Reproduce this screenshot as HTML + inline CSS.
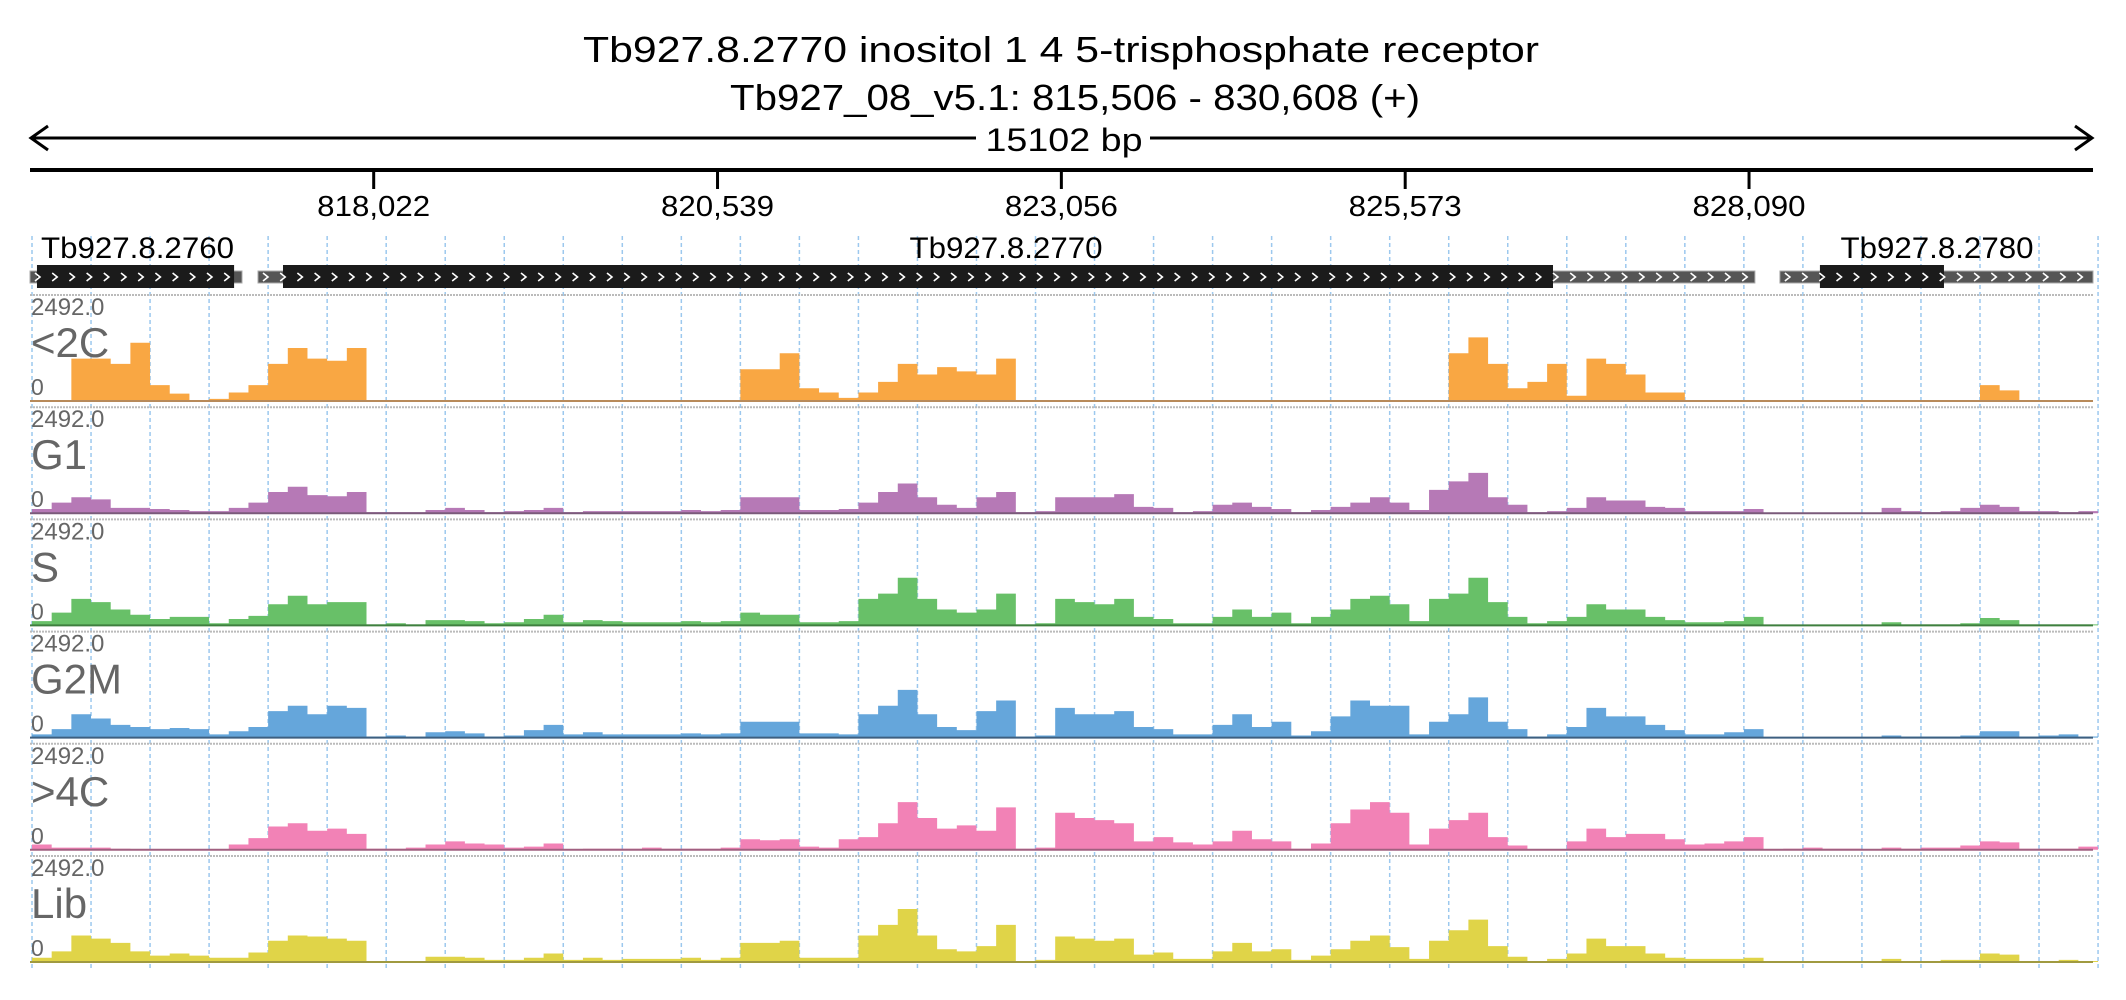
<!DOCTYPE html>
<html><head><meta charset="utf-8">
<style>
html,body{margin:0;padding:0;background:#fff;}
svg{display:block;font-family:"Liberation Sans",sans-serif;}
</style></head>
<body>
<svg id="chart" width="2126" height="1000" viewBox="0 0 2126 1000" xmlns="http://www.w3.org/2000/svg">
  <text x="1061" y="62" font-size="36" text-anchor="middle" textLength="956" lengthAdjust="spacingAndGlyphs">Tb927.8.2770  inositol 1 4 5-trisphosphate receptor</text>
  <text x="1075" y="110" font-size="36" text-anchor="middle" textLength="690" lengthAdjust="spacingAndGlyphs">Tb927_08_v5.1: 815,506 - 830,608 (+)</text>
  <g stroke="#000" stroke-width="3" fill="none">
    <line x1="31" y1="138" x2="976" y2="138"/>
    <line x1="1150" y1="138" x2="2092" y2="138"/>
    <polyline points="48,126 31,138 48,150"/>
    <polyline points="2075,126 2092,138 2075,150"/>
  </g>
  <text x="1064" y="151" font-size="32" text-anchor="middle" textLength="157" lengthAdjust="spacingAndGlyphs">15102 bp</text>
  <line x1="30" y1="170" x2="2093" y2="170" stroke="#000" stroke-width="4"/>
  <g id="axis"></g>
  <g id="grid"></g>
  <g id="genes"></g>
  <g id="tracks"></g>
</svg>
<script>
const NS='http://www.w3.org/2000/svg';
// ---- data ----
const startBp=815506, endBp=830608;
const tickBp=[818022,820539,823056,825573,828090];
const tickLabels=['818,022','820,539','823,056','825,573','828,090'];
const trackNames=['<2C','G1','S','G2M','>4C','Lib'];
const maxLabel='2492.0';
const cov2C=[0,0,40, 40,35,55, 15,7,1, 2,8,15, 35,50,40, 38,50,0, 0,0,0, 0,0,0, 0,0,0, 0,0,0, 0,0,0, 0,0,0, 30,30,45, 12,8,3, 8,18,35, 25,32,28, 25,40,1, 0,0,0, 0,0,0, 0,0,0, 0,0,0, 0,0,0, 0,0,0, 0,0,1, 45,60,35, 12,18,35, 5,40,35, 25,8,8, 0,0,0, 0,0,0, 0,0,0, 0,0,0, 0,0,0, 15,10,0, 0,0,0];
const covG1=[4,10,15, 13,5,5, 4,3,2, 2,5,10, 20,25,17, 16,20,1, 1,1,3, 5,3,1, 2,3,5, 1,2,2, 2,2,2, 3,2,3, 15,15,15, 3,3,4, 10,20,28, 15,8,5, 15,20,1, 2,15,15, 15,18,6, 5,1,2, 8,10,6, 4,1,3, 6,10,15, 10,3,22, 30,38,15, 8,1,2, 5,15,12, 12,6,5, 2,2,2, 4,0,0, 0,0,0, 0,5,2, 1,2,5, 8,6,2, 2,1,2];
const covS=[4,12,25, 22,15,10, 6,8,8, 2,6,9, 20,28,20, 22,22,1, 2,1,5, 5,4,2, 3,6,10, 3,5,4, 3,3,3, 4,3,4, 12,10,10, 3,3,4, 25,30,45, 25,15,12, 15,30,1, 2,25,22, 20,25,8, 6,2,2, 8,15,8, 12,2,8, 15,25,28, 20,4,25, 30,45,22, 8,2,4, 8,20,15, 15,8,5, 3,3,4, 8,0,0, 0,0,0, 0,3,1, 1,1,2, 7,5,1, 1,1,1];
const covG2M=[3,8,22, 18,12,10, 8,9,8, 3,6,10, 25,30,22, 30,28,1, 2,1,5, 6,4,1, 2,7,12, 3,5,3, 3,3,3, 4,3,4, 15,15,15, 4,4,3, 22,30,45, 22,10,7, 25,35,1, 2,28,22, 22,25,10, 8,3,3, 12,22,10, 15,2,6, 20,35,30, 30,3,15, 22,38,15, 8,1,3, 10,28,20, 20,12,7, 3,3,5, 8,0,0, 0,0,0, 0,2,1, 1,1,2, 6,6,1, 2,3,1];
const cov4C=[5,2,2, 2,1,0, 0,0,0, 0,5,11, 22,25,18, 20,15,1, 1,2,5, 8,6,5, 2,3,6, 0,1,1, 1,2,1, 1,1,2, 10,9,10, 3,2,10, 12,25,45, 30,20,23, 18,40,1, 2,35,30, 28,25,8, 12,7,5, 8,18,10, 8,1,6, 25,38,45, 35,5,20, 28,35,12, 4,0,0, 8,20,12, 15,15,10, 5,6,8, 12,0,1, 2,1,1, 0,2,1, 2,2,4, 8,7,1, 1,1,3];
const covLib=[4,10,25, 22,18,10, 6,8,6, 4,4,9, 20,25,24, 22,20,1, 1,1,5, 5,4,2, 2,4,8, 2,4,2, 3,3,3, 4,2,4, 18,18,20, 4,4,4, 25,35,50, 25,12,10, 15,35,1, 2,24,22, 20,22,7, 9,3,3, 10,18,10, 12,2,6, 12,20,25, 14,3,20, 30,40,15, 5,1,3, 8,22,15, 15,8,4, 3,3,3, 4,0,0, 1,1,1, 0,3,1, 1,2,2, 8,7,1, 1,2,1];
const geneNames=['Tb927.8.2760','Tb927.8.2770','Tb927.8.2780'];
const geneUtrStart=[815506,817175,828316];
const geneUtrEnd=[817058,828133,830608];
const geneCdsStart=[815557,817358,828609];
const geneCdsEnd=[817000,826655,829517];
// ---- layout / scales ----
const X0=30,X1=2093;
const xBp=bp=>X0+(bp-startBp)*(X1-X0)/(endBp-startBp);
const BIN0=32,BINW=59.03/3;
const xBin=i=>BIN0+i*BINW;
const covs=[cov2C,covG1,covS,covG2M,cov4C,covLib];
const colors=['#f9a743','#b679b6','#68c068','#65a6db','#f282b6','#e0d448'];
const baseCols=['#b88a5a','#7a5a7a','#3f7f3f','#3d5f80','#a06080','#a09a40'];
const trackTop=i=>295+i*112.2;
const TH=106;
const yCov=(i,v)=>trackTop(i)+TH-v/100*TH;
function el(tag,attrs,parent){const e=document.createElementNS(NS,tag);for(const k in attrs)e.setAttribute(k,attrs[k]);parent.appendChild(e);return e;}
// axis
const axis=document.getElementById('axis');
tickBp.forEach((bp,i)=>{
  const x=xBp(bp);
  const t=el('line',{x1:x,y1:170,x2:x,y2:189,stroke:'#000','stroke-width':3},axis);
  
  
  const l=el('text',{x:x,y:216,'font-size':29,'text-anchor':'middle',textLength:113,lengthAdjust:'spacingAndGlyphs'},axis);
  l.textContent=tickLabels[i];
  
  
});
// grid
const grid=document.getElementById('grid');
for(let k=0;k<=35;k++){
  const x=BIN0+k*59.03;
  const g=el('line',{x1:x,y1:236,x2:x,y2:970,stroke:'#9cc8ee','stroke-width':1.5,'stroke-dasharray':'4,3'},grid);
  
  
}
// genes
const genes=document.getElementById('genes');
geneNames.forEach((n,i)=>{
  const g=el('g',{},genes);
  
  
  const ua=xBp(geneUtrStart[i]),ub=xBp(geneUtrEnd[i]);
  el('rect',{x:ua,y:271,width:ub-ua,height:12,fill:'#555',stroke:'#aaa','stroke-width':1},g);
  const ca=xBp(geneCdsStart[i]),cb=xBp(geneCdsEnd[i]);
  el('rect',{x:ca,y:265,width:cb-ca,height:23,fill:'#1b1b1b'},g);
  let s='';
  for(let x=ua+5;x<ub-6;x+=17.2) s+=`M${x},${273} l5,4 l-5,4 `;
  el('path',{d:s,stroke:'#fff','stroke-width':1.6,fill:'none'},g);
  let tx,anchor='middle';
  if(i===0){tx=41;anchor='start';}else if(i===1){tx=1006;}else{tx=1937;}
  const t=el('text',{x:tx,y:258,'font-size':30,'text-anchor':anchor,textLength:193,lengthAdjust:'spacingAndGlyphs'},g);
  t.textContent=n;
});
// tracks
const tracks=document.getElementById('tracks');
covs.forEach((arr,ti)=>{
  const g=el('g',{},tracks);
  
  
  const top=trackTop(ti),base=top+TH;
  el('line',{x1:30,y1:top,x2:2093,y2:top,stroke:'#bbb','stroke-width':2,'stroke-dasharray':'2,1'},g);
  let d=`M${xBin(0)},${base}`;
  arr.forEach((v,i)=>{const y=yCov(ti,v);d+=` L${xBin(i)},${y} L${xBin(i+1)},${y}`;});
  d+=` L${xBin(arr.length)},${base} Z`;
  const p=el('path',{d:d,fill:colors[ti]},g);
  
  
  el('line',{x1:30,y1:base,x2:2093,y2:base,stroke:baseCols[ti],'stroke-width':2},g);
  const m=el('text',{x:31,y:top+20,'font-size':24,fill:'#666'},g);
  m.textContent=maxLabel;
  
  
  const z=el('text',{x:31,y:base-6,'font-size':23,fill:'#666'},g);
  z.textContent='0';
  
  
  const nm=el('text',{x:31,y:top+62,'font-size':42,fill:'#666'},g);
  nm.textContent=trackNames[ti];
  
  
});
</script>
</body></html>
